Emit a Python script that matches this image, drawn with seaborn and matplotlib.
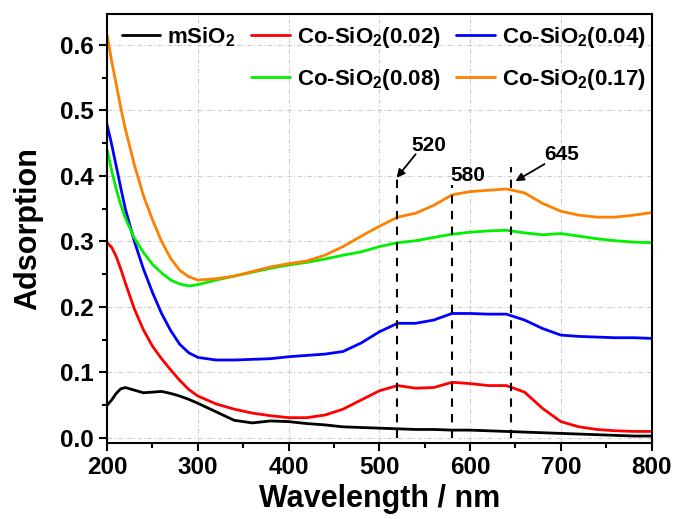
import numpy as np
import pandas as pd
import seaborn as sns
import matplotlib.pyplot as plt
from matplotlib.lines import Line2D
from matplotlib.ticker import MultipleLocator

wavelength = [200, 205, 210, 215, 220, 230, 240, 250, 260, 270, 280, 290, 300,
              320, 340, 360, 380, 400, 420, 440, 460, 480, 500, 520, 540,
              560, 580, 600, 620, 640, 660, 680, 700, 720, 740, 760, 780, 800]

msio2 = [0.050, 0.058, 0.068, 0.075, 0.077, 0.073, 0.069, 0.070, 0.071, 0.068, 0.064,
         0.059, 0.053, 0.040, 0.027, 0.023, 0.026, 0.025, 0.022, 0.020, 0.017,
         0.016, 0.015, 0.014, 0.013, 0.013, 0.012, 0.012, 0.011, 0.010, 0.009,
         0.008, 0.007, 0.006, 0.005, 0.004, 0.003, 0.003]
co_002 = [0.298, 0.291, 0.277, 0.258, 0.237, 0.197, 0.165, 0.140, 0.121, 0.104, 0.088,
          0.074, 0.064, 0.052, 0.044, 0.038, 0.034, 0.031, 0.031, 0.035, 0.044,
          0.058, 0.072, 0.080, 0.076, 0.077, 0.085, 0.083, 0.080, 0.080, 0.070,
          0.045, 0.025, 0.017, 0.013, 0.011, 0.010, 0.010]
co_004 = [0.478, 0.448, 0.415, 0.382, 0.350, 0.300, 0.258, 0.222, 0.190, 0.164, 0.143,
          0.130, 0.123, 0.119, 0.119, 0.120, 0.121, 0.124, 0.126, 0.128, 0.132,
          0.145, 0.162, 0.175, 0.175, 0.180, 0.190, 0.190, 0.189, 0.189, 0.180,
          0.167, 0.157, 0.155, 0.154, 0.153, 0.153, 0.152]
co_008 = [0.440, 0.408, 0.380, 0.356, 0.336, 0.305, 0.283, 0.265, 0.252, 0.241, 0.235,
          0.232, 0.234, 0.241, 0.247, 0.253, 0.259, 0.264, 0.268, 0.273, 0.279,
          0.284, 0.292, 0.298, 0.301, 0.306, 0.311, 0.314, 0.316, 0.317, 0.313,
          0.310, 0.312, 0.308, 0.304, 0.301, 0.299, 0.298]
co_017 = [0.615, 0.575, 0.540, 0.504, 0.472, 0.417, 0.370, 0.333, 0.300, 0.274, 0.256,
          0.246, 0.241, 0.243, 0.247, 0.254, 0.261, 0.266, 0.270, 0.279, 0.292,
          0.308, 0.323, 0.337, 0.343, 0.355, 0.371, 0.376, 0.378, 0.380, 0.374,
          0.358, 0.346, 0.340, 0.337, 0.337, 0.340, 0.344]

names = ["mSiO$_2$", "Co-SiO$_2$(0.02)", "Co-SiO$_2$(0.04)",
         "Co-SiO$_2$(0.08)", "Co-SiO$_2$(0.17)"]
colors = ["#000000", "#ff0000", "#0000ff", "#00f000", "#ff8000"]

peaks = [520, 580, 645]
peak_tops = [0.398, 0.386, 0.414]

df = pd.DataFrame({
    "Wavelength": wavelength * 5,
    "Adsorption": msio2 + co_002 + co_004 + co_008 + co_017,
    "Sample": [n for n in names for _ in wavelength],
})

sns.set_style("ticks")
plt.rcParams["font.family"] = ["Liberation Sans", "DejaVu Sans"]
plt.rcParams["font.weight"] = "bold"
plt.rcParams["text.color"] = "black"
plt.rcParams["axes.labelcolor"] = "black"
plt.rcParams["xtick.color"] = "black"
plt.rcParams["ytick.color"] = "black"
plt.rcParams["axes.edgecolor"] = "black"
plt.rcParams["mathtext.fontset"] = "custom"
plt.rcParams["mathtext.rm"] = "Liberation Sans:bold"
plt.rcParams["mathtext.it"] = "Liberation Sans:bold"
plt.rcParams["mathtext.bf"] = "Liberation Sans:bold"

fig, ax = plt.subplots(figsize=(6.78, 5.19), dpi=100)
fig.subplots_adjust(left=0.158, right=0.961, bottom=0.146, top=0.973)

sns.lineplot(data=df, x="Wavelength", y="Adsorption", hue="Sample",
             palette=colors, linewidth=2.0, legend=False, ax=ax)

ax.vlines(peaks, 0, peak_tops, colors="black", linestyles=(0, (4, 3.5)), linewidth=1.5)

# peak labels and arrows
ax.text(peaks[1] + 17, 0.401, "580", fontsize=15, fontweight="bold", ha="center", va="center")
ax.text(555, 0.447, "520", fontsize=15, fontweight="bold", ha="center", va="center")
ax.text(701, 0.433, "645", fontsize=15, fontweight="bold", ha="center", va="center")
arrow = dict(arrowstyle="-|>", color="black", lw=1.3, shrinkA=0, shrinkB=0, mutation_scale=12)
ax.annotate("", xy=(peaks[0] - 1, 0.397), xytext=(540, 0.433), arrowprops=arrow)
ax.annotate("", xy=(peaks[2] + 5, 0.392), xytext=(682, 0.418), arrowprops=arrow)

ax.set_xlim(200, 800)
ax.set_ylim(-0.008, 0.647)
ax.xaxis.set_major_locator(MultipleLocator(100))
ax.xaxis.set_minor_locator(MultipleLocator(50))
ax.yaxis.set_minor_locator(MultipleLocator(0.05))
ax.set_yticks(np.arange(0, 0.61, 0.1))
ax.set_yticklabels([f"{v:.1f}" for v in np.arange(0, 0.61, 0.1)])
ax.tick_params(axis="both", which="major", direction="out", length=6, width=1.5,
               labelsize=17.5, top=False, right=False)
ax.tick_params(axis="both", which="minor", direction="out", length=3.5, width=1.5,
               top=False, right=False)
for s in ax.spines.values():
    s.set_linewidth(1.5)
ax.grid(True, which="major", color="#cccccc", linestyle=(0, (4, 2, 1, 2)), linewidth=0.8)

ax.set_xlabel("Wavelength / nm", fontsize=22, fontweight="bold", labelpad=3)
ax.set_ylabel("Adsorption", fontsize=22, fontweight="bold", labelpad=12)

handles = [Line2D([], [], color=c, lw=2.0) for c in colors]
blank = Line2D([], [], color="none")
order_h = [handles[0], blank, handles[1], handles[3], handles[2], handles[4]]
order_l = [names[0], "", names[1], names[3], names[2], names[4]]
ax.legend(order_h, order_l, ncol=3, loc="upper left", bbox_to_anchor=(0.0, 1.008),
          frameon=False, fontsize=16, handlelength=1.75, handletextpad=0.3,
          columnspacing=0.7, labelspacing=0.75, borderaxespad=0.25)

plt.savefig("out.png", dpi=100)
